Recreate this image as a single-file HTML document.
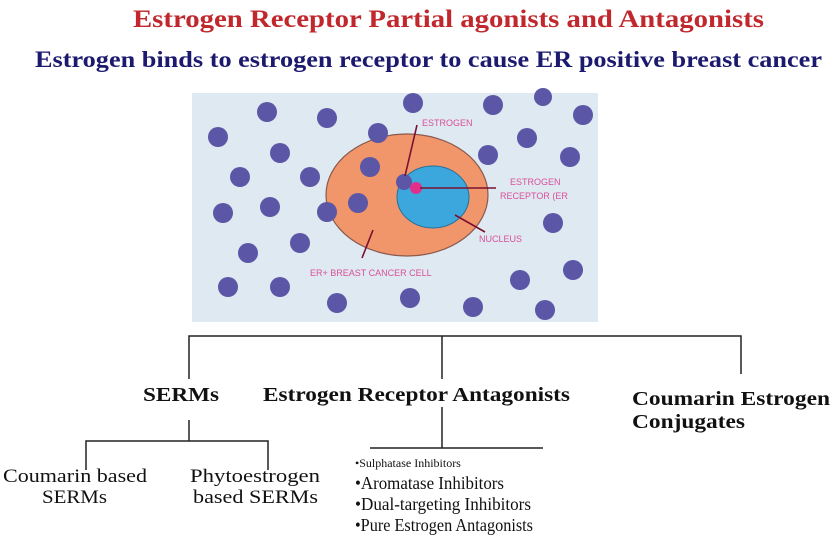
<!DOCTYPE html>
<html><head><meta charset="utf-8"><style>
html,body{margin:0;padding:0;background:#fff;}
svg{display:block;}
</style></head><body>
<svg width="832" height="538" viewBox="0 0 832 538" xmlns="http://www.w3.org/2000/svg">
<g font-family="Liberation Serif, serif">
<text x="133" y="27" font-size="25" font-weight="bold" fill="#c0282d" textLength="631" lengthAdjust="spacingAndGlyphs">Estrogen Receptor Partial agonists and Antagonists</text>
<text x="35" y="67" font-size="23" font-weight="bold" fill="#1c1a6e" textLength="787" lengthAdjust="spacingAndGlyphs">Estrogen binds to estrogen receptor to cause ER positive breast cancer</text>
</g>
<rect x="192" y="93" width="406" height="229" fill="#dfe9f1"/>
<ellipse cx="407" cy="195" rx="81" ry="61" fill="#f0966a" stroke="#8a5a50" stroke-width="1.2"/>
<ellipse cx="433" cy="197" rx="36" ry="31" fill="#3ba7dc" stroke="#2a6f9a" stroke-width="1"/>
<g fill="#5b56a6">
<circle cx="267" cy="112" r="10"/><circle cx="327" cy="118" r="10"/><circle cx="413" cy="103" r="10"/><circle cx="493" cy="105" r="10"/><circle cx="543" cy="97" r="9"/><circle cx="583" cy="115" r="10"/><circle cx="218" cy="137" r="10"/><circle cx="280" cy="153" r="10"/><circle cx="378" cy="133" r="10"/><circle cx="527" cy="138" r="10"/><circle cx="570" cy="157" r="10"/><circle cx="488" cy="155" r="10"/><circle cx="240" cy="177" r="10"/><circle cx="310" cy="177" r="10"/><circle cx="370" cy="167" r="10"/><circle cx="223" cy="213" r="10"/><circle cx="270" cy="207" r="10"/><circle cx="358" cy="203" r="10"/><circle cx="327" cy="212" r="10"/><circle cx="553" cy="223" r="10"/><circle cx="248" cy="253" r="10"/><circle cx="300" cy="243" r="10"/><circle cx="228" cy="287" r="10"/><circle cx="280" cy="287" r="10"/><circle cx="337" cy="303" r="10"/><circle cx="410" cy="298" r="10"/><circle cx="473" cy="307" r="10"/><circle cx="520" cy="280" r="10"/><circle cx="573" cy="270" r="10"/><circle cx="545" cy="310" r="10"/>
<circle cx="404" cy="182" r="8"/>
</g>
<circle cx="416" cy="188" r="6" fill="#e0308a"/>
<g stroke="#7a1030" stroke-width="1.6">
<line x1="417" y1="125" x2="405" y2="176"/>
<line x1="420" y1="188" x2="496" y2="188"/>
<line x1="455" y1="215" x2="485" y2="232"/>
<line x1="373" y1="230" x2="362" y2="258"/>
</g>
<g font-family="Liberation Sans, sans-serif" font-size="9" fill="#d8509a">
<text x="422" y="126">ESTROGEN</text>
<text x="510" y="185">ESTROGEN</text>
<text x="500" y="199">RECEPTOR (ER</text>
<text x="479" y="242">NUCLEUS</text>
<text x="310" y="276">ER+ BREAST CANCER CELL</text>
</g>
<g stroke="#222" stroke-width="1.5" fill="none">
<polyline points="189,379 189,336 741,336 741,374"/>
<line x1="442" y1="336" x2="442" y2="379"/>
<line x1="189" y1="420" x2="189" y2="441"/>
<polyline points="86,470 86,441 268,441 268,470"/>
<line x1="442" y1="407" x2="442" y2="448"/>
<line x1="370" y1="448" x2="543" y2="448"/>
</g>
<g font-family="Liberation Serif, serif" fill="#111">
<text x="143" y="401" font-size="20" font-weight="bold" textLength="76" lengthAdjust="spacingAndGlyphs">SERMs</text>
<text x="263" y="401" font-size="20" font-weight="bold" textLength="307" lengthAdjust="spacingAndGlyphs">Estrogen Receptor Antagonists</text>
<text x="632" y="405" font-size="20" font-weight="bold" textLength="198" lengthAdjust="spacingAndGlyphs">Coumarin Estrogen</text>
<text x="632" y="428" font-size="20" font-weight="bold" textLength="113" lengthAdjust="spacingAndGlyphs">Conjugates</text>
<text x="3" y="482" font-size="19" textLength="144" lengthAdjust="spacingAndGlyphs">Coumarin based</text>
<text x="42" y="503" font-size="19" textLength="65" lengthAdjust="spacingAndGlyphs">SERMs</text>
<text x="190" y="482" font-size="19" textLength="130" lengthAdjust="spacingAndGlyphs">Phytoestrogen</text>
<text x="193" y="503" font-size="19" textLength="125" lengthAdjust="spacingAndGlyphs">based SERMs</text>
<text x="355" y="467" font-size="12">•Sulphatase Inhibitors</text>
<text x="355" y="489" font-size="18" textLength="149" lengthAdjust="spacingAndGlyphs">•Aromatase Inhibitors</text>
<text x="355" y="510" font-size="18" textLength="176" lengthAdjust="spacingAndGlyphs">•Dual-targeting Inhibitors</text>
<text x="355" y="531" font-size="18" textLength="178" lengthAdjust="spacingAndGlyphs">•Pure Estrogen Antagonists</text>
</g>
</svg>
</body></html>
